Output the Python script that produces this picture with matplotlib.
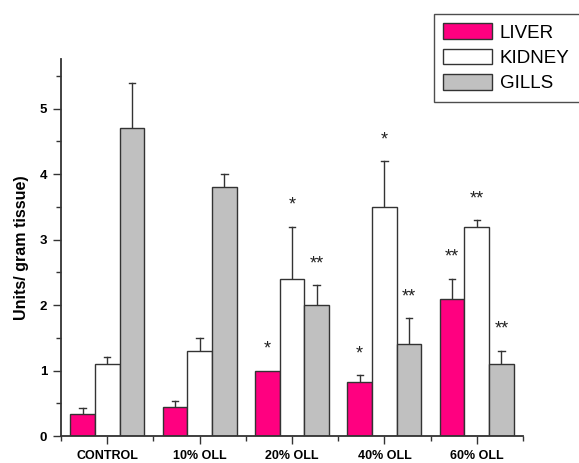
import numpy as np
import matplotlib
matplotlib.use("Agg")
import matplotlib.pyplot as plt
from matplotlib.ticker import MultipleLocator

plt.rcParams['font.family'] = ['Liberation Sans', 'DejaVu Sans']

groups = ["CONTROL", "10% OLL", "20% OLL", "40% OLL", "60% OLL"]
tissues = ["LIVER", "KIDNEY", "GILLS"]

liver = [0.33, 0.44, 1.0, 0.83, 2.1]
kidney = [1.1, 1.3, 2.4, 3.5, 3.2]
gills = [4.7, 3.8, 2.0, 1.4, 1.1]

liver_err = [0.10, 0.10, 0.0, 0.10, 0.3]
kidney_err = [0.10, 0.20, 0.8, 0.70, 0.1]
gills_err = [0.70, 0.20, 0.3, 0.40, 0.2]

liver_sig = ["", "", "*", "*", "**"]
kidney_sig = ["", "", "*", "*", "**"]
gills_sig = ["", "", "**", "**", "**"]

colors = ["#FF0080", "#FFFFFF", "#C0C0C0"]

fig = plt.figure(figsize=(5.79, 4.63), dpi=100)
ax = fig.add_axes([0.1054, 0.0583, 0.7979, 0.8143])

x = np.arange(1, len(groups) + 1)
width = 0.267
series = [(liver, liver_err, liver_sig), (kidney, kidney_err, kidney_sig),
          (gills, gills_err, gills_sig)]

for i, (vals, errs, sigs) in enumerate(series):
    pos = x + (i - 1) * width
    ax.bar(pos, vals, width, color=colors[i], edgecolor="#333333",
           linewidth=1.0, label=tissues[i], zorder=2)
    for p, v, e, s in zip(pos, vals, errs, sigs):
        if e > 0:
            # one-sided error bar: stem from bar top plus a short cap
            ax.plot([p, p], [v, v + e], color="#333333", lw=1.0, zorder=1)
            ax.plot([p - 0.035, p + 0.035], [v + e, v + e], color="#333333",
                    lw=1.0, zorder=3)
        if s:
            ax.text(p, v + e + 0.26, s, ha="center", va="baseline",
                    fontsize=13, color="#222222")

ax.set_xlim(0.5, 5.5)
ax.set_ylim(0, 5.76)
ax.set_xticks(x)
ax.set_xticklabels(groups, fontsize=9, fontweight="bold")
ax.xaxis.set_minor_locator(MultipleLocator(1, offset=0.5))
ax.yaxis.set_major_locator(MultipleLocator(1))
ax.yaxis.set_minor_locator(MultipleLocator(0.5))
ax.tick_params(axis="y", labelsize=9.5)
for lab in ax.get_yticklabels():
    lab.set_fontweight("bold")
ax.tick_params(which="major", direction="out", length=6, width=1.0,
               color="#333333", pad=4)
ax.tick_params(which="minor", direction="out", length=3.5, width=1.0,
               color="#333333")

for side in ["top", "right"]:
    ax.spines[side].set_visible(False)
for side in ["left", "bottom"]:
    ax.spines[side].set_linewidth(1.3)
    ax.spines[side].set_color("#333333")

ax.set_ylabel("Units/ gram tissue)", fontsize=11.5, fontweight="bold",
              labelpad=8)

leg = fig.legend(loc="upper left",
                 bbox_to_anchor=(434 / 579, 0.5, 0.27, 1 - 14 / 463 - 0.5),
                 mode="expand", borderaxespad=0,
                 fontsize=13.5, frameon=True, fancybox=False, handlelength=2.6,
                 handleheight=0.9, handletextpad=0.4, labelspacing=0.38,
                 borderpad=0.5)
leg.get_frame().set_edgecolor("#222222")
leg.get_frame().set_linewidth(1.0)

fig.savefig("out.png", dpi=100)
